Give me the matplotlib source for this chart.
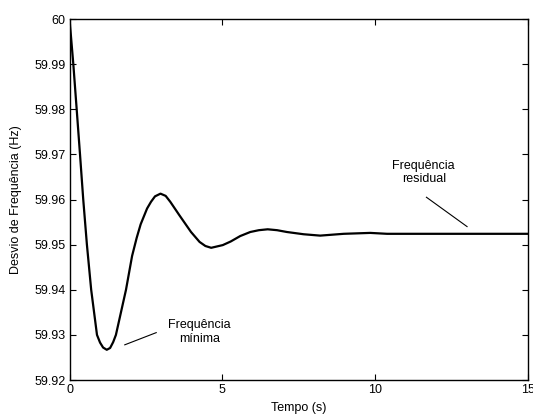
import matplotlib
matplotlib.use('Agg')
import matplotlib.pyplot as plt

plt.rcParams['font.family'] = ['Liberation Sans', 'DejaVu Sans']
plt.rcParams['font.size'] = 9

# values
tempo = [0.0, 0.125, 0.235, 0.344, 0.45, 0.57, 0.71, 0.90, 1.0, 1.1, 1.22,
         1.33, 1.43, 1.52, 1.85, 2.05, 2.2, 2.33, 2.45, 2.54, 2.67, 2.8, 2.98,
         3.15, 3.30, 3.6, 3.98, 4.26, 4.45, 4.64, 5.02, 5.28, 5.59, 5.92, 6.2,
         6.49, 6.8, 7.12, 7.67, 8.21, 8.98, 9.85, 10.4, 15.0]
freq = [60.0, 59.99, 59.98, 59.97, 59.96, 59.95, 59.94, 59.93, 59.9283,
        59.9272, 59.9267, 59.9271, 59.9284, 59.93, 59.94, 59.9475, 59.9515,
        59.9545, 59.9565, 59.958, 59.9595, 59.9607, 59.9613, 59.9608,
        59.9595, 59.9565, 59.9528, 59.9506, 59.9497, 59.9493, 59.9499,
        59.9507, 59.9519, 59.9528, 59.9532, 59.9534, 59.9532, 59.9528,
        59.9523, 59.9520, 59.9524, 59.9526, 59.9524, 59.9524]

xticks = [0, 5, 10, 15]
yticks = [59.92, 59.93, 59.94, 59.95, 59.96, 59.97, 59.98, 59.99, 60]
ytick_labels = ['59.92', '59.93', '59.94', '59.95', '59.96', '59.97', '59.98', '59.99', '60']

fig = plt.figure(figsize=(5.33, 4.16), dpi=100)
ax = fig.add_axes([0.1304, 0.0865, 0.8593, 0.8678])

ax.plot(tempo, freq, color='black', linewidth=1.6)

ax.set_xlim(0, 15)
ax.set_ylim(59.92, 60)
ax.set_xticks(xticks)
ax.set_xticklabels([str(v) for v in xticks])
ax.set_yticks(yticks)
ax.set_yticklabels(ytick_labels)
ax.tick_params(direction='in', top=True, right=True, length=4, width=0.8,
               labelsize=9, pad=3)
for s in ax.spines.values():
    s.set_linewidth(1.0)

ax.set_xlabel('Tempo (s)', fontsize=9, labelpad=4)
ax.set_ylabel('Desvio de Frequência (Hz)', fontsize=9, labelpad=9)

# annotations
ax.text(4.26, 59.9307, 'Frequência\nmínima', ha='center', va='center',
        fontsize=9, linespacing=1.2)
ax.plot([1.81, 2.84], [59.9278, 59.9305], color='black', linewidth=0.8)

ax.text(11.6, 59.966, 'Frequência\nresidual', ha='center', va='center',
        fontsize=9, linespacing=1.2)
ax.plot([11.69, 13.02], [59.9605, 59.954], color='black', linewidth=0.8)

fig.savefig('out.png', dpi=100)
